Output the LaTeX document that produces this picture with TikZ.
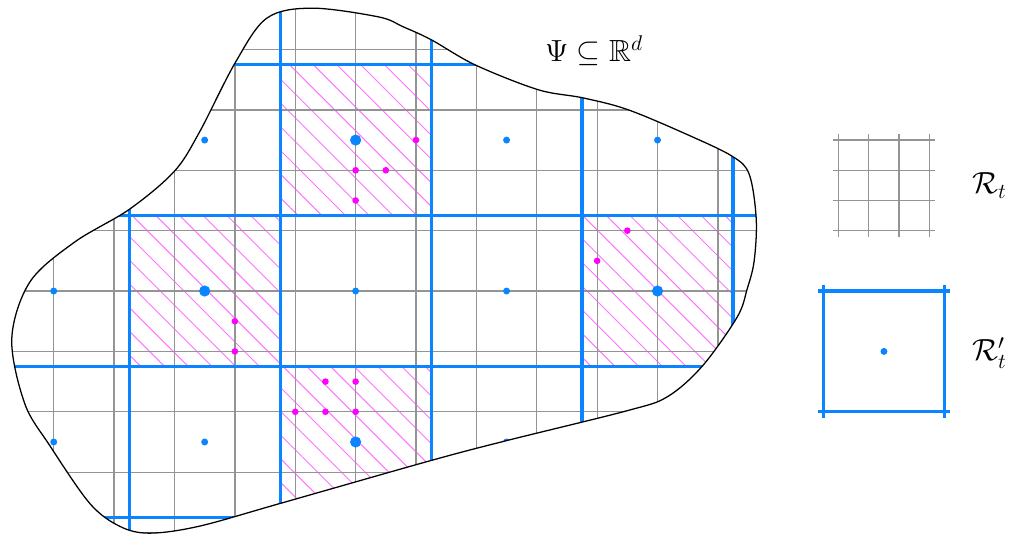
\documentclass[tikz,border=0pt]{standalone}
\usepackage{amsmath,amssymb}
\usepackage{xcolor}
\usepackage{tikz}
\usetikzlibrary{patterns.meta}
\definecolor{cellblue}{HTML}{0A84FF}
\definecolor{hitpink}{HTML}{FF00FF}

\begin{document}
\begin{tikzpicture}[x=0.5cm,y=0.5cm,
    finegrid/.style={line width=0.6pt, black!42},
    coarse/.style={line width=1.5pt, cellblue},
    hatch/.style={pattern={Lines[angle=-45,distance=7.9pt,line width=0.45pt]},
                  pattern color=hitpink!55},
    lbl/.style={font=\Large}]

  \def\blob{plot[smooth cycle, tension=0.55] coordinates {
      (-11.39,-1.58) (-10.79,0.30) (-9.31,1.62) (-7.49,2.71) (-6.01,3.96)
      (-5.18,5.25) (-3.99,7.56) (-2.94,9.04) (-1.45,9.37) (0.76,9.08)
      (1.58,8.75) (2.51,8.32) (3.96,7.49) (6.04,6.67) (7.52,6.40) (9.01,6.01)
      (10.99,5.18) (12.48,4.46) (13.04,3.86) (13.27,2.38) (13.20,0.99)
      (12.97,0.07) (12.64,-0.86) (11.49,-2.48) (10.33,-3.50) (9.01,-3.96)
      (5.02,-4.95) (2.51,-5.61) (-2.48,-7.03) (-5.18,-7.79) (-6.83,-8.02)
      (-7.82,-7.79) (-8.81,-7.03) (-10.13,-5.12) (-10.96,-3.73)}}

  % -- everything of the cover lives inside the set
  \begin{scope}
    \clip \blob;
    % -- hatched coarse cells
    \foreach \x/\y in {-2.5/2.5, -7.5/-2.5, 7.5/-2.5, -2.5/-7.5}
      \fill[hatch] (\x,\y) rectangle ++(5,5);
    % -- fine grid
    \draw[finegrid] (-12,-9) grid (14,10);
    % -- coarse grid
    \foreach \c in {-7.5,-2.5,2.5,7.5,12.5}
      \draw[coarse] (\c,-9) -- (\c,10);
    \foreach \c in {-7.5,-2.5,2.5,7.5}
      \draw[coarse] (-12,\c) -- (14,\c);
    % -- centres of the coarse cells
    \foreach \x/\y in {-5/5, 5/5, 10/5, -10/0, 0/0, 5/0, -10/-5, -5/-5, 5/-5}
      \fill[cellblue] (\x,\y) circle (0.115);
    \foreach \x/\y in {0/5, -5/0, 10/0, 0/-5}
      \fill[cellblue] (\x,\y) circle (0.185);
    % -- sample points in the hatched cells
    \foreach \x/\y in {2/5, 0/4, 1/4, 0/3, -4/-1, -4/-2, 9/2, 8/1,
                       -1/-3, 0/-3, -2/-4, -1/-4, 0/-4}
      \fill[hitpink] (\x,\y) circle (0.11);
  \end{scope}
  \draw[line width=0.6pt, black] \blob;

  \node[lbl] (psi) at (7.9,7.95) {$\Psi \subseteq \mathbb{R}^d$};

  % -- legend: fine grid --
  \foreach \k in {16,...,19}
    \draw[finegrid] (\k,1.8) -- (\k,5.2);
  \foreach \k in {2,...,5}
    \draw[finegrid] (15.8,\k) -- (19.2,\k);
  \node[lbl] (rt) at (21,3.5) {$\mathcal{R}_t$};

  % -- legend: coarse cell --
  \foreach \k in {15.5,19.5}
    \draw[coarse] (\k,-4.2) -- (\k,0.2);
  \foreach \k in {0,-4}
    \draw[coarse] (15.3,\k) -- (19.7,\k);
  \fill[cellblue] (17.5,-2) circle (0.115);
  \node[lbl] (rtp) at (21,-2.05) {$\mathcal{R}'_t$};

  \useasboundingbox (-11.78,-8.02) rectangle (21.68,9.64);
\end{tikzpicture}
\end{document}
